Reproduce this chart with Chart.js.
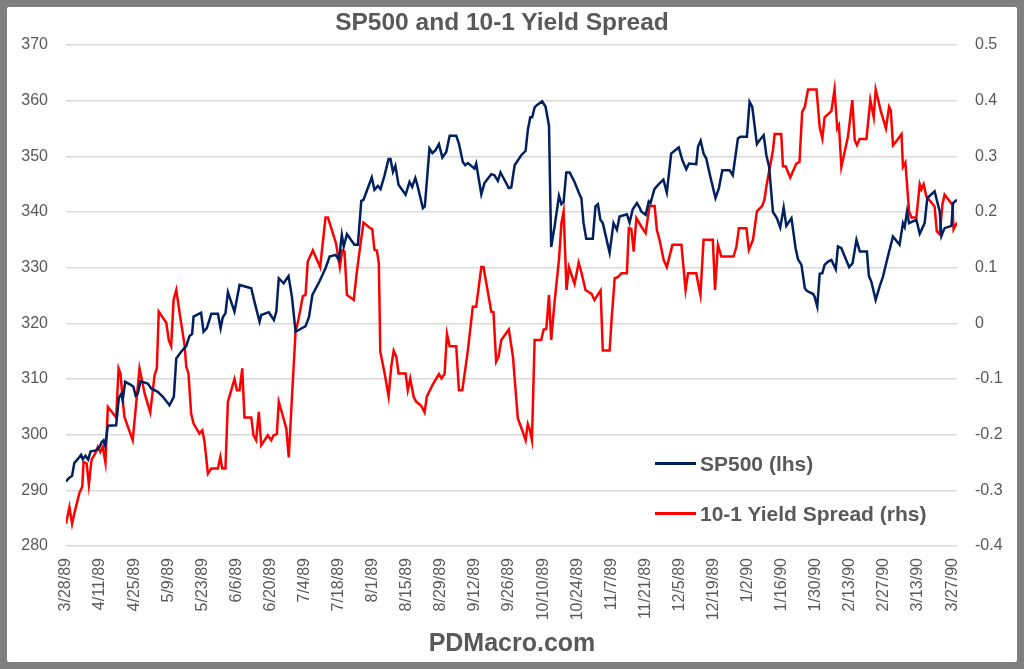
<!DOCTYPE html>
<html>
<head>
<meta charset="utf-8">
<script src="https://cdn.jsdelivr.net/npm/chart.js@4/dist/chart.umd.min.js"></script>
<style>
html,body{margin:0;padding:0;width:1024px;height:669px;overflow:hidden;background:#7f7f7f;}
#frame{position:absolute;left:7px;top:7px;width:1010px;height:655px;background:#ffffff;border-radius:2px;}
#c{position:absolute;left:0;top:0;}
.t{position:absolute;font-family:'Liberation Sans',Arial,sans-serif;font-weight:bold;color:#595959;white-space:nowrap;line-height:1;}
#title{left:502px;top:22px;transform:translate(-50%,-50%);font-size:24.5px;}
#footer{left:512px;top:642px;transform:translate(-50%,-50%);font-size:25px;}
.lg{position:absolute;left:655px;width:41px;height:3px;}
.lt{left:700px;transform:translateY(-50%);font-size:21px;}
</style>
</head>
<body>
<div id="frame"></div>
<canvas id="c" width="1024" height="669"></canvas>
<div class="t" id="title">SP500 and 10-1 Yield Spread</div>
<div class="lg" style="top:462px;background:#002060;"></div>
<div class="t lt" style="top:463px;">SP500 (lhs)</div>
<div class="lg" style="top:512px;background:#ff0000;"></div>
<div class="t lt" style="top:513px;">10-1 Yield Spread (rhs)</div>
<div class="t" id="footer">PDMacro.com</div>
<script>
// x tick labels (every 14 days)
const tickLabels = ['3/28/89','4/11/89','4/25/89','5/9/89','5/23/89','6/6/89','6/20/89','7/4/89','7/18/89','8/1/89',
  '8/15/89','8/29/89','9/12/89','9/26/89','10/10/89','10/24/89','11/7/89','11/21/89','12/5/89','12/19/89',
  '1/2/90','1/16/90','1/30/90','2/13/90','2/27/90','3/13/90','3/27/90'];

// SP500: day offset from 3/28/89 and index level (lhs)
const spxDay = [0,1.2,2.5,3.4,4.8,6.2,6.9,8.0,9.1,10.1,
  11.7,12.8,13.8,14.7,15.4,16.1,17.2,20.6,21.7,22.7,
  23.3,24.3,26.8,27.7,28.6,29.5,30.6,33.6,35.0,37.7,
  39.8,42.5,44.3,45.3,47.3,49.4,50.7,51.8,52.4,55.5,
  56.5,57.8,59.7,62.4,63.5,64.4,65.5,66.5,69.2,71.3,
  76.1,77.4,79.5,80.2,83.3,85.4,86.4,87.4,89.4,91.4,
  92.8,94.3,95.6,98.4,99.8,101.2,104.2,106.6,108.3,110.7,
  112.1,113.3,114.1,115.4,118.5,119.9,121.3,122.2,124.0,125.6,
  126.7,128.1,129.2,130.8,132.5,133.3,134.3,135.3,136.6,139.5,
  141.1,142.2,143.5,144.3,146.6,147.4,149.3,150.5,151.8,153.2,
  154.6,156.2,157.6,160.3,161.4,163.0,164.0,165.1,167.8,168.5,
  170.6,171.9,174.7,176.0,177.4,178.5,179.7,181.9,182.9,184.3,
  187.0,188.8,189.7,190.7,191.5,192.5,193.4,195.6,197.0,198.4,
  199.3,200.7,202.5,203.5,204.4,205.5,206.9,208.9,211.0,211.7,
  212.6,213.7,216.4,217.5,218.5,219.5,220.5,223.3,224.9,226.3,
  227.4,230.4,231.5,232.8,234.5,235.6,236.3,238.1,239.4,240.1,
  241.7,243.5,245.4,246.8,248.6,250.0,251.7,253.2,254.8,255.9,
  258.9,259.6,260.7,261.9,263.0,264.7,266.8,268.2,269.6,272.6,
  273.9,276.0,277.0,279.7,280.8,281.9,283.8,284.9,286.6,287.7,
  288.8,290.4,292.0,293.4,294.8,295.9,298.0,299.7,300.7,302.1,
  303.5,304.4,306.8,307.5,308.6,309.6,310.7,311.6,313.0,314.4,
  316.2,317.1,318.5,319.9,321.7,323.1,324.7,326.1,329.0,329.8,
  330.8,332.6,334.2,335.6,337.6,339.7,342.4,343.8,344.5,345.5,
  346.3,349.3,350.7,352.7,353.8,356.8,358.9,359.6,360.9,363.7,
  364.4,366.0];
const spxVal = [291.6,292.2,292.6,294.9,295.6,296.4,295.6,296.2,295.5,297.0,
  297.1,297.3,297.8,298.7,299.0,298.0,301.6,301.7,306.6,307.3,
  306.2,309.5,308.9,308.6,307.0,307.4,309.6,309.2,308.3,307.7,
  306.8,305.3,306.8,313.7,314.9,315.9,317.7,318.1,321.2,321.9,
  318.5,319.1,321.7,321.7,319.1,321.1,321.8,325.6,322.1,326.9,
  326.3,323.9,320.3,321.5,322.0,320.6,322.1,328.1,327.2,328.5,
  324.8,318.5,318.8,319.5,321.1,325.1,327.6,329.9,332.0,332.3,
  331.4,335.9,333.8,336.0,334.1,334.1,342.0,342.2,344.3,346.2,
  344.0,344.7,344.1,346.5,349.5,349.5,347.2,348.3,344.9,343.1,
  345.4,344.5,346.1,344.9,340.7,341.0,351.4,350.6,351.1,352.2,
  349.8,350.8,353.7,353.7,352.3,349.0,348.4,348.8,347.8,348.7,
  343.2,345.2,346.8,346.6,345.6,347.1,346.1,344.3,344.4,348.4,
  350.2,351.0,354.7,357.0,357.0,358.8,359.2,359.9,358.9,355.5,
  333.7,337.4,342.9,341.4,341.8,347.1,347.1,345.4,343.1,342.5,
  338.0,335.2,335.2,341.0,341.4,338.6,338.0,332.7,338.0,336.8,
  339.2,339.6,338.1,340.5,341.6,340.8,340.1,339.5,341.9,341.6,
  344.1,345.0,345.8,343.5,350.5,351.0,351.6,349.3,347.7,348.7,
  348.6,351.7,352.8,350.5,349.6,346.3,342.5,344.3,347.5,347.5,
  346.6,353.2,353.5,353.5,359.8,358.9,352.2,352.9,353.8,350.2,
  348.2,340.0,338.9,337.2,340.8,337.5,338.9,333.5,331.5,330.5,
  326.3,325.8,325.3,324.8,323.0,328.9,329.0,330.5,331.1,331.4,
  329.7,333.8,333.5,332.0,330.1,330.8,335.0,332.9,332.9,328.5,
  327.5,324.2,326.6,328.4,332.0,335.6,334.1,338.0,337.3,340.1,
  338.0,338.6,336.1,338.0,342.5,343.7,340.1,335.7,337.1,337.5,
  341.6,342.2];

// 10-1 yield spread: day offset from 3/28/89 and spread (rhs)
const sprDay = [0,1.4,2.5,3.5,5.5,6.7,7.2,8.5,9.4,10.5,
  12.1,13.1,14.1,15.1,16.2,17.2,19.9,20.6,21.6,22.4,
  23.3,24.0,27.4,30.2,32.3,34.6,36.4,37.3,38.1,41.2,
  42.2,43.2,44.2,45.3,46.9,48.7,49.4,50.3,51.4,52.4,
  54.8,56.0,56.9,58.3,59.7,62.4,63.4,64.2,65.5,66.5,
  67.5,69.2,70.2,71.3,72.4,73.3,76.1,77.0,78.1,79.2,
  80.2,82.9,84.3,85.3,86.6,87.4,88.8,90.5,91.5,92.9,
  94.3,95.6,97.3,98.4,99.3,101.4,104.4,106.6,107.6,110.9,
  112.5,113.5,114.4,115.4,118.2,119.4,120.9,122.2,125.0,125.8,
  126.7,127.7,128.5,129.1,130.9,132.5,133.6,134.6,135.7,136.6,
  139.5,140.4,141.4,142.8,143.9,145.9,147.3,148.2,150.5,153.2,
  154.2,155.5,156.5,157.6,160.3,161.4,162.8,165.1,167.1,168.5,
  170.6,171.5,174.7,175.6,176.7,177.7,178.8,181.9,183.6,185.6,
  187.4,188.8,189.7,190.4,191.4,192.5,195.2,196.2,197.3,198.4,
  199.3,200.7,202.5,203.5,204.4,205.6,206.6,208.9,210.6,211.8,
  213.4,215.9,217.1,218.4,219.6,220.5,223.3,224.1,225.4,226.7,
  228.2,230.4,231.2,232.2,233.2,234.3,236.3,238.1,239.7,241.8,
  242.7,243.8,245.5,246.8,249.1,252.8,254.5,255.5,258.9,260.6,
  261.9,265.7,266.6,267.8,269.2,274.2,275.4,276.4,279.5,280.5,
  282.2,283.8,286.0,286.9,287.8,288.7,290.4,291.1,293.8,294.5,
  295.6,297.5,300.0,301.3,302.4,303.5,304.8,308.3,309.6,310.7,
  311.6,314.4,315.7,316.8,317.5,318.5,321.2,323.0,324.0,324.9,
  326.0,328.8,330.4,331.8,332.6,334.6,336.8,338.1,338.8,339.7,
  341.4,343.2,343.8,344.8,346.3,347.3,349.3,350.7,351.4,352.3,
  353.4,356.8,357.7,358.9,360.0,360.9,364.1,364.6,366.0];
const sprVal = [-0.36,-0.33,-0.36,-0.34,-0.305,-0.293,-0.249,-0.252,-0.29,-0.245,
  -0.233,-0.222,-0.231,-0.222,-0.25,-0.15,-0.165,-0.17,-0.081,-0.09,
  -0.138,-0.168,-0.21,-0.081,-0.126,-0.16,-0.093,-0.081,0.021,0.001,
  -0.03,-0.041,0.042,0.06,0.012,-0.039,-0.078,-0.09,-0.162,-0.18,
  -0.198,-0.192,-0.213,-0.27,-0.261,-0.261,-0.24,-0.261,-0.261,-0.141,
  -0.126,-0.1,-0.12,-0.12,-0.081,-0.169,-0.169,-0.201,-0.21,-0.159,
  -0.219,-0.201,-0.21,-0.201,-0.199,-0.141,-0.162,-0.189,-0.241,-0.126,
  -0.015,0.009,0.049,0.051,0.111,0.131,0.101,0.19,0.19,0.144,
  0.101,0.131,0.129,0.051,0.042,0.09,0.14,0.181,0.171,0.169,
  0.132,0.131,0.108,-0.051,-0.09,-0.131,-0.078,-0.049,-0.06,-0.09,
  -0.09,-0.12,-0.099,-0.132,-0.141,-0.148,-0.16,-0.132,-0.111,-0.091,
  -0.099,-0.091,-0.019,-0.041,-0.041,-0.12,-0.12,-0.048,0.03,0.03,
  0.101,0.101,0.021,0.02,-0.069,-0.06,-0.03,-0.011,-0.06,-0.171,
  -0.192,-0.21,-0.181,-0.189,-0.21,-0.03,-0.03,-0.011,-0.01,0.051,
  -0.03,0.039,0.114,0.18,0.201,0.06,0.101,0.071,0.109,0.09,
  0.06,0.053,0.042,0.051,0.059,-0.049,-0.049,0.006,0.081,0.083,
  0.09,0.09,0.171,0.17,0.129,0.189,0.174,0.162,0.211,0.211,
  0.168,0.15,0.114,0.101,0.141,0.141,0.06,0.09,0.09,0.051,
  0.15,0.15,0.06,0.141,0.12,0.12,0.138,0.171,0.171,0.132,
  0.15,0.201,0.211,0.222,0.249,0.27,0.311,0.34,0.34,0.282,
  0.282,0.262,0.287,0.29,0.38,0.389,0.42,0.42,0.352,0.332,
  0.37,0.381,0.42,0.35,0.356,0.281,0.335,0.401,0.329,0.32,
  0.331,0.331,0.401,0.37,0.42,0.383,0.35,0.389,0.383,0.32,
  0.329,0.34,0.281,0.289,0.201,0.19,0.19,0.25,0.241,0.25,
  0.228,0.21,0.165,0.16,0.213,0.231,0.213,0.169,0.181];

function dayOf(s){
  const p = s.split('/').map(Number);
  return Math.round((Date.UTC(1900 + p[2], p[0] - 1, p[1]) - Date.UTC(1989, 2, 28)) / 864e5);
}
const tickDays = tickLabels.map(dayOf);

const grey = '#595959';
const tickFont = {family:"'Liberation Sans', Arial, sans-serif", size:16};

new Chart(document.getElementById('c'), {
  type: 'line',
  data: {
    datasets: [
      {label:'SP500 (lhs)', data: spxDay.map((d,i)=>({x:d, y:spxVal[i]})),
       borderColor:'#002060', backgroundColor:'#002060', borderWidth:2.5, pointRadius:0, tension:0, yAxisID:'yL'},
      {label:'10-1 Yield Spread (rhs)', data: sprDay.map((d,i)=>({x:d, y:sprVal[i]})),
       borderColor:'#ff0000', backgroundColor:'#ff0000', borderWidth:2.5, pointRadius:0, tension:0, yAxisID:'yR'}
    ]
  },
  options: {
    responsive:false, animation:false, devicePixelRatio:1,
    layout:{padding:{top:45, left:0, right:0, bottom:0}},
    plugins:{legend:{display:false}, tooltip:{enabled:false}, title:{display:false}},
    scales:{
      x:{type:'linear', min:0, max:366,
         afterBuildTicks:(s)=>{ s.ticks = tickDays.map(v=>({value:v})); },
         afterFit:(s)=>{ s.height = 123; },
         grid:{display:false, drawTicks:false}, border:{display:false},
         ticks:{autoSkip:false, maxRotation:90, minRotation:90, padding:12, color:grey, font:tickFont,
                callback:(v)=>{ const i = tickDays.indexOf(v); return i >= 0 ? tickLabels[i] : ''; }}},
      yL:{type:'linear', position:'left', min:280, max:370,
          afterFit:(s)=>{ s.width = 66; },
          grid:{color:'#d9d9d9', lineWidth:1.5, drawTicks:false}, border:{display:false},
          ticks:{stepSize:10, padding:18, color:grey, font:tickFont}},
      yR:{type:'linear', position:'right', min:-0.4, max:0.5,
          afterFit:(s)=>{ s.width = 67; },
          grid:{display:false, drawTicks:false}, border:{display:false},
          ticks:{stepSize:0.1, padding:18, color:grey, font:tickFont,
                 callback:(v)=> String(Math.round(v*10)/10 || 0)}}
    }
  }
});
</script>
</body>
</html>
